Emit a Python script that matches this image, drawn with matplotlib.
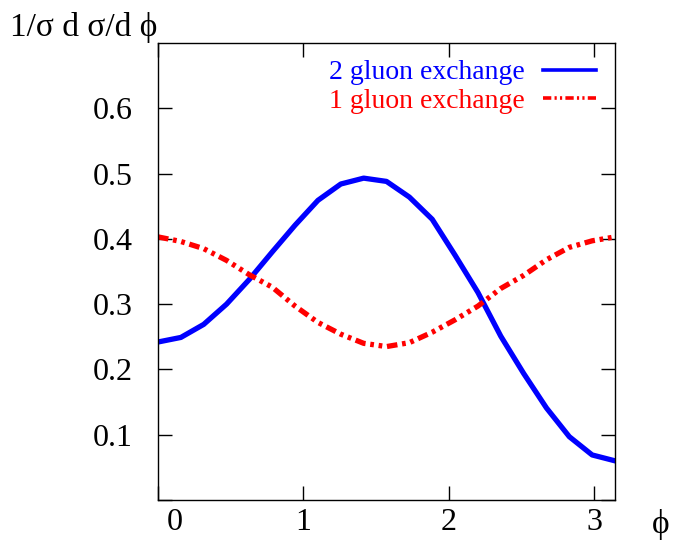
import numpy as np
import matplotlib
matplotlib.use('Agg')
from matplotlib import pyplot as plt
from matplotlib.lines import Line2D
import matplotlib.transforms as mtransforms

# phi sampled at 21 points between 0 and pi
phi = np.linspace(0, np.pi, 21)

two_gluon = [0.242, 0.249, 0.269, 0.300, 0.338, 0.380, 0.421, 0.459, 0.484, 0.493,
             0.488, 0.464, 0.430, 0.375, 0.318, 0.251, 0.194, 0.141, 0.097, 0.069, 0.060]
one_gluon = [0.403, 0.396, 0.385, 0.367, 0.345, 0.326, 0.297, 0.272, 0.254, 0.240,
             0.235, 0.241, 0.257, 0.276, 0.297, 0.324, 0.344, 0.368, 0.387, 0.397, 0.403]

labels = ['2 gluon exchange', '1 gluon exchange']
xticks = [0, 1, 2, 3]
yticks = [0.1, 0.2, 0.3, 0.4, 0.5, 0.6]

plt.rcParams['font.family'] = ['Liberation Serif', 'DejaVu Serif']

fig = plt.figure(figsize=(6.75, 5.42), dpi=100)
ax = fig.add_axes([158 / 675, 42 / 542, 457 / 675, 457 / 542])

ax.plot(phi, two_gluon, color='blue', lw=3.8)
ax.plot(phi, one_gluon, color='red', lw=3.8, dashes=(2.0, 0.9, 0.7, 0.9, 0.7, 0.9),
        dash_capstyle='butt')

ax.set_xlim(0, np.pi)
ax.set_ylim(0, 0.7)
ax.set_xticks(xticks)
ax.set_yticks([0.0] + yticks)
ax.set_yticklabels([''] + ['%.1f' % v for v in yticks])
ax.tick_params(direction='in', length=10, width=1, top=True, right=True,
               labelsize=23)
ax.tick_params(axis='y', pad=18)
ax.tick_params(axis='x', pad=6)
for s in ax.spines.values():
    s.set_linewidth(1)

# gnuplot pushes the 0 label away from the corner
lab0 = ax.get_xticklabels()[0]
lab0.set_transform(lab0.get_transform() + mtransforms.ScaledTranslation(17 / 100, 0, fig.dpi_scale_trans))

# legend keys are drawn thinner than the curves
handles = [Line2D([], [], color='blue', lw=2.6),
           Line2D([], [], color='red', lw=2.6, dashes=(2.3, 0.9, 0.6, 0.9, 0.6, 0.9),
                  dash_capstyle='butt')]
leg = ax.legend(handles, labels, loc='upper right', bbox_to_anchor=(0.958, 0.963),
                frameon=False, markerfirst=False, fontsize=20, handlelength=1.9,
                handletextpad=0.65, labelspacing=0.1, borderpad=0, borderaxespad=0,
                labelcolor='linecolor')

fig.text(10 / 675, 1 - 36 / 542, '1/σ d σ/d ϕ', fontsize=24, ha='left', va='baseline')
fig.text(661 / 675, 1 - 533 / 542, 'ϕ', fontsize=24, ha='center', va='baseline')

fig.savefig('out.png', dpi=100)
